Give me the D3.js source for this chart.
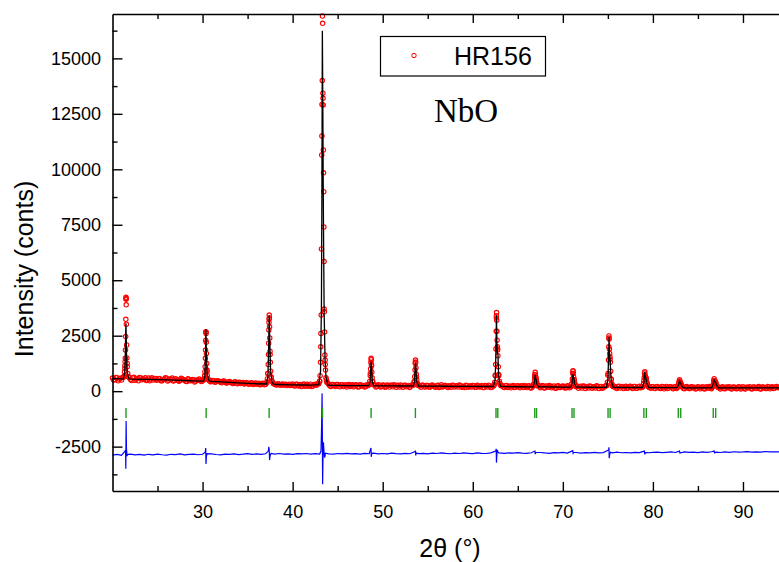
<!DOCTYPE html>
<html>
<head>
<meta charset="utf-8">
<script src="https://cdn.jsdelivr.net/npm/d3@7"></script>
<style>
  body { margin: 0; background: #fff; }
</style>
</head>
<body>
<script>
// ---- data ----

// observed counts, two interleaved 0.25 deg grids (from 20 and from 20.125 deg)
var obsStep = 0.25;
var obsStartA = 20;
var obsGridA = [
  590, 520, 610, 540, 500, 640, 4180, 650, 530, 600, 490, 570, 615, 510, 550, 480, 590, 545, 500, 575,
  510, 560, 470, 540, 585, 495, 530, 455, 560, 505, 480, 545, 500, 440, 530, 485, 510, 455, 495, 470,
  470, 700, 900, 480, 430, 470, 420, 455, 400, 445, 410, 380, 430, 375, 405, 360, 390, 345, 385, 350,
  360, 325, 370, 335, 315, 355, 300, 340, 310, 800, 1650, 420, 320, 280, 315, 295, 270, 310, 285, 260,
  320, 230, 310, 250, 215, 320, 260, 220, 315, 235, 300, 330, 450, 11500, 3700, 520, 310, 215, 300, 205,
  300, 200, 290, 230, 190, 300, 250, 195, 290, 190, 285, 225, 185, 290, 310, 1200, 290, 190, 285, 185,
  280, 180, 275, 185, 265, 290, 175, 255, 280, 180, 270, 220, 170, 275, 420, 640, 270, 175, 270, 185,
  260, 180, 275, 200, 240, 170, 285, 205, 250, 165, 230, 270, 185, 245, 280, 175, 225, 265, 180, 240,
  250, 175, 265, 190, 255, 160, 240, 270, 170, 235, 720, 1850, 360, 250, 165, 255, 195, 150, 250, 180,
  245, 150, 230, 255, 160, 240, 145, 300, 600, 230, 155, 250, 140, 225, 250, 150, 235, 135, 240, 170,
  235, 140, 240, 150, 330, 520, 200, 130, 225, 235, 125, 210, 235, 135, 200, 240, 125, 215, 150, 230,
  720, 1450, 260, 215, 120, 225, 195, 115, 220, 140, 225, 120, 210, 130, 220, 175, 470, 580, 200, 130,
  200, 115, 210, 135, 205, 105, 215, 140, 195, 110, 205, 190, 420, 200, 110, 205, 120, 200, 145, 100,
  200, 105, 195, 100, 190, 205, 110, 430, 360, 175, 100, 195, 105, 190, 200, 95, 185, 110, 200, 100,
  195, 95, 180, 200, 100, 190, 115, 205, 100, 185, 120, 210, 105, 195, 130, 205, 150
];
var obsStartB = 20.125;
var obsGridB = [
  500, 615, 470, 585, 620, 1150, 1250, 600, 480, 625, 535, 470, 600, 555, 610, 505, 465, 600, 560, 490,
  575, 470, 525, 600, 455, 545, 590, 480, 520, 450, 580, 515, 445, 560, 470, 530, 415, 505, 545, 430,
  520, 2650, 520, 420, 480, 400, 470, 430, 380, 460, 365, 425, 395, 350, 420, 335, 400, 375, 320, 395,
  310, 380, 300, 365, 345, 285, 360, 290, 380, 3100, 600, 330, 290, 335, 265, 320, 300, 250, 315, 280,
  250, 315, 230, 300, 285, 225, 310, 245, 215, 300, 270, 340, 2000, 13200, 1200, 380, 240, 305, 260, 295,
  230, 285, 210, 290, 265, 205, 285, 235, 275, 200, 270, 250, 205, 260, 800, 450, 275, 220, 270, 205,
  265, 200, 250, 270, 195, 240, 265, 190, 245, 270, 195, 255, 230, 280, 1300, 330, 230, 265, 195, 255,
  190, 255, 230, 175, 265, 215, 190, 260, 200, 240, 175, 260, 225, 185, 250, 205, 170, 245, 215, 190,
  245, 180, 230, 205, 170, 250, 190, 235, 175, 300, 3400, 750, 240, 200, 245, 165, 230, 205, 160, 235,
  200, 240, 165, 215, 235, 150, 225, 650, 330, 240, 205, 150, 235, 175, 220, 200, 145, 230, 160, 215,
  205, 150, 230, 200, 900, 300, 220, 200, 140, 220, 195, 145, 215, 190, 140, 210, 200, 135, 215, 260,
  2400, 520, 200, 150, 215, 140, 210, 185, 130, 205, 175, 215, 135, 200, 150, 200, 730, 330, 190, 200,
  135, 195, 170, 120, 195, 160, 115, 200, 150, 185, 120, 360, 320, 130, 185, 160, 115, 185, 175, 130,
  180, 150, 115, 185, 130, 175, 200, 460, 240, 150, 180, 125, 175, 150, 120, 180, 165, 115, 185, 140,
  120, 180, 150, 115, 185, 135, 175, 110, 190, 150, 125, 185, 160, 120, 190, 170
];

// extra observed points climbing each reflection
var peakObs = [
  [21.30,700],[21.34,880],[21.37,1030],[21.40,1330],[21.42,1480],[21.44,1860],[21.46,2460],[21.48,3240],
  [21.50,4230],[21.51,4140],[21.52,3890],[21.54,3020],[21.57,2080],[21.60,1500],[21.64,1100],[21.69,800],[21.76,650],
  [30.17,560],[30.22,700],[30.26,880],[30.29,1100],[30.31,1480],[30.33,1850],[30.35,2300],[30.37,2680],
  [30.39,2600],[30.41,2200],[30.43,1700],[30.46,1250],[30.49,950],[30.53,720],[30.60,560],
  [37.15,420],[37.20,560],[37.25,800],[37.29,1200],[37.32,1650],[37.34,2160],[37.36,2760],[37.38,3240],
  [37.40,3430],[37.42,3300],[37.44,2900],[37.46,2400],[37.49,1800],[37.52,1300],[37.56,900],[37.61,650],[37.70,450],
  [42.90,330],[43.00,450],[43.05,700],[43.10,1300],[43.14,2600],[43.17,3430],[43.20,6410],[43.23,10650],
  [43.26,12920],[43.29,14000],[43.31,16910],[43.33,16580],[43.36,13430],[43.39,12900],[43.41,10870],
  [43.43,9840],[43.45,8990],[43.47,7400],[43.49,5840],[43.52,3580],[43.55,2670],[43.58,1630],[43.61,1400],
  [43.65,950],[43.70,600],[43.80,400],
  [48.50,300],[48.57,450],[48.62,700],[48.66,1000],[48.69,1300],[48.71,1480],[48.73,1420],[48.76,1150],
  [48.79,850],[48.83,600],[48.88,420],[48.95,300],
  [53.42,280],[53.50,420],[53.55,650],[53.59,950],[53.62,1250],[53.64,1400],[53.66,1300],[53.69,1050],
  [53.73,760],[53.78,520],[53.85,350],[53.95,260],
  [62.35,250],[62.45,400],[62.50,700],[62.54,1200],[62.57,1900],[62.60,2700],[62.62,3300],[62.64,3540],
  [62.66,3200],[62.68,2700],[62.70,2300],[62.73,2000],[62.76,1900],[62.79,1600],[62.83,1100],[62.88,700],
  [62.95,450],[63.05,300],
  [66.70,220],[66.80,330],[66.86,520],[66.90,750],[66.93,850],[66.96,720],[67.00,600],[67.05,500],[67.10,380],[67.20,240],
  [70.90,200],[71.00,330],[71.06,550],[71.10,800],[71.13,925],[71.16,800],[71.20,640],[71.25,520],[71.30,380],[71.40,230],
  [74.85,250],[74.95,400],[75.02,800],[75.07,1400],[75.10,2000],[75.12,2490],[75.14,2350],[75.17,1900],
  [75.20,1700],[75.23,1550],[75.27,1300],[75.31,900],[75.37,550],[75.45,320],[75.55,220],
  [78.85,190],[78.97,350],[79.03,600],[79.07,820],[79.10,880],[79.14,700],[79.20,620],[79.27,560],
  [79.33,400],[79.42,250],[79.55,180],
  [82.70,170],[82.85,300],[82.92,450],[82.96,510],[83.00,420],[83.07,380],[83.15,300],[83.25,200],
  [86.55,170],[86.70,300],[86.77,480],[86.80,560],[86.85,470],[86.93,430],[87.00,360],[87.10,230],[87.25,170]
];

// calculated profile (black line)
var calcProfile = [
  [20,570],[21,558],
  [21.2,556],[21.35,820],[21.42,1600],[21.47,2700],[21.49,3060],[21.51,2800],[21.55,1750],[21.6,1050],[21.7,720],[21.85,552],
  [22,545],[23,535],[24,528],[25,518],[26,505],[27,493],[28,480],[29,468],
  [30.1,456],[30.25,640],[30.32,1500],[30.37,2790],[30.42,1850],[30.5,850],[30.65,520],[30.8,448],
  [31,440],[32,420],[33,398],[34,375],[35,352],[36,335],
  [37.1,322],[37.25,650],[37.33,1750],[37.4,3420],[37.47,2100],[37.55,950],[37.7,430],[37.9,308],
  [38.5,300],[40,284],[41,277],[42,271],
  [42.9,290],[43.1,900],[43.2,4000],[43.25,9000],[43.3,16250],[43.35,13000],[43.4,9000],[43.45,6000],
  [43.5,3500],[43.6,1400],[43.7,650],[43.9,285],
  [44.2,265],[45,258],[46,252],[47,248],
  [48.45,250],[48.6,440],[48.67,1000],[48.72,1330],[48.78,880],[48.85,430],[49.0,250],
  [50,239],[51,236],[52,233],
  [53.4,234],[53.53,440],[53.6,1000],[53.65,1280],[53.7,940],[53.8,410],[54.0,232],
  [55,227],[56,224],[57,221],[58,218],[59,216],[60,213],[61,210],
  [62.3,210],[62.48,500],[62.57,1700],[62.63,3420],[62.68,2200],[62.74,1700],[62.8,1650],[62.86,800],[62.95,420],[63.1,212],
  [64,201],[65,198],[66,196],
  [66.7,196],[66.83,370],[66.92,740],[66.98,560],[67.04,520],[67.12,320],[67.3,195],
  [68,190],[69,187],[70,184],
  [70.9,184],[71.03,370],[71.12,770],[71.18,600],[71.24,540],[71.32,320],[71.5,182],
  [72,179],[73,176],[74,173],
  [74.85,175],[75.0,550],[75.08,1500],[75.13,2450],[75.18,1700],[75.24,1450],[75.3,1000],[75.38,450],[75.6,172],
  [76,168],[77,166],[78,164],
  [78.85,164],[79.0,400],[79.09,870],[79.16,620],[79.25,560],[79.33,370],[79.55,163],
  [80,160],[81,158],[82,156],
  [82.7,156],[82.86,300],[82.95,470],[83.02,380],[83.1,360],[83.2,230],[83.4,154],
  [84,152],[85,150],[86,149],
  [86.55,150],[86.7,320],[86.8,530],[86.87,420],[86.96,400],[87.05,280],[87.3,148],
  [88,147],[89,146],[90,145],[91,145],[92,146],[93,147],[94,148]
];

// difference curve (blue), 0.5 deg grid from 20 deg plus the spikes at the reflections
var diffStart = 20, diffStep = 0.5;
var diffGrid = [
  -2880, -2850, -2890, -2860, -2840, -2875, -2850, -2885, -2845, -2870, -2835, -2865, -2880, -2845, -2860, -2830, -2870, -2850, -2840, -2865,
  -2845, -2860, -2830, -2855, -2870, -2835, -2850, -2825, -2860, -2840, -2815, -2850, -2830, -2845, -2820, -2855, -2835, -2810, -2840, -2825,
  -2845, -2815, -2830, -2810, -2840, -2820, -2835, -2805, -2825, -2840, -2810, -2830, -2800, -2825, -2815, -2835, -2805, -2820, -2795, -2830,
  -2810, -2825, -2795, -2815, -2830, -2800, -2820, -2790, -2815, -2805, -2825, -2795, -2810, -2780, -2805, -2820, -2790, -2810, -2785, -2800,
  -2815, -2785, -2800, -2810, -2780, -2795, -2770, -2805, -2785, -2795, -2770, -2790, -2805, -2775, -2790, -2765, -2785, -2800, -2770, -2780,
  -2760, -2790, -2775, -2765, -2795, -2770, -2780, -2755, -2785, -2770, -2760, -2780, -2750, -2775, -2765, -2780, -2755, -2770, -2745, -2775,
  -2760, -2745, -2770, -2755, -2740, -2765, -2750, -2735, -2760, -2745, -2770, -2740, -2755, -2730, -2750, -2765, -2740, -2755, -2730, -2745,
  -2740, -2725, -2750, -2735, -2745, -2720, -2740, -2730, -2735
];
var diffSpikes = [
  [21.38,-2700],[21.45,-2650],[21.48,-3500],[21.51,-1350],[21.55,-2600],[21.62,-2900],[21.75,-2850],
  [30.30,-2750],[30.35,-2560],[30.38,-3280],[30.42,-2950],[30.50,-2820],
  [37.30,-2700],[37.36,-2510],[37.40,-2650],[37.44,-3100],[37.50,-2900],[37.60,-2810],
  [43.15,-2700],[43.22,-1500],[43.27,-100],[43.30,-2000],[43.33,-4200],[43.37,-3000],[43.42,-2300],
  [43.48,-2700],[43.55,-3000],[43.65,-2800],
  [48.66,-2600],[48.70,-2560],[48.73,-2960],[48.78,-2800],
  [53.60,-2720],[53.64,-2680],[53.67,-2900],[53.72,-2790],
  [62.55,-2700],[62.60,-2600],[62.63,-3220],[62.67,-2900],[62.72,-2650],[62.80,-2750],[62.90,-2780],
  [66.90,-2700],[66.94,-2840],[67.00,-2760],
  [71.10,-2680],[71.14,-2800],[71.20,-2760],
  [75.08,-2650],[75.12,-2530],[75.15,-3020],[75.20,-2850],[75.30,-2750],
  [79.05,-2700],[79.10,-2850],[79.16,-2760],
  [82.95,-2700],[83.00,-2790],
  [86.80,-2700],[86.85,-2780]
];

// Bragg reflection positions (Ka1 / Ka2 split at high angle)
var braggPos = [21.5, 30.4, 37.39, 43.32, 48.71, 53.63,
  62.58, 62.78, 66.88, 67.08, 71.02, 71.24, 75.02, 75.25,
  79.0, 79.27, 82.82, 83.09, 86.7, 86.97];

var xTicks = [30, 40, 50, 60, 70, 80, 90],
    xMinor = [25, 35, 45, 55, 65, 75, 85];
var yTicks = [-2500, 0, 2500, 5000, 7500, 10000, 12500, 15000],
    yMinor = [-3750, -1250, 1250, 3750, 6250, 8750, 11250, 13750, 16250];

var legendLabel = "HR156",
    phaseLabel = "NbO",
    xTitle = "2\u03B8 (\u00B0)",
    yTitle = "Intensity (conts)";

// ---- drawing ----

var width = 779, height = 562;
var plotLeft = 112.5, plotRight = 779, plotTop = 14, plotBottom = 491;

var x = d3.scaleLinear().domain([20, 94]).range([plotLeft, plotRight]);
var y = d3.scaleLinear().domain([-4500, 17000]).range([plotBottom, plotTop]);

var sans = "'Liberation Sans', Arial, Helvetica, sans-serif";

var svg = d3.select("body").append("svg")
    .attr("width", width)
    .attr("height", height);

// observed points
var obsPoints = obsGridA.map(function(v, i) { return [obsStartA + i * obsStep, v]; })
    .concat(obsGridB.map(function(v, i) { return [obsStartB + i * obsStep, v]; }))
    .concat(peakObs);

svg.append("g").selectAll("circle")
    .data(obsPoints)
    .enter().append("circle")
    .attr("cx", function(d) { return x(d[0]); })
    .attr("cy", function(d) { return y(d[1]); })
    .attr("r", 2.2)
    .style("fill", "none")
    .style("stroke", "#ff0000")
    .style("stroke-width", 1.1);

var line = d3.line()
    .x(function(d) { return x(d[0]); })
    .y(function(d) { return y(d[1]); });

// calculated line
svg.append("path")
    .datum(calcProfile)
    .attr("d", line)
    .style("fill", "none")
    .style("stroke", "#000")
    .style("stroke-width", 1.3);

// difference line: drop grid points sitting on a spike
var diffPoints = diffGrid.map(function(v, i) { return [diffStart + i * diffStep, v]; })
    .filter(function(p) {
        return !diffSpikes.some(function(s) { return Math.abs(s[0] - p[0]) < 0.12; });
    })
    .concat(diffSpikes)
    .sort(function(a, b) { return a[0] - b[0]; });

svg.append("path")
    .datum(diffPoints)
    .attr("d", line)
    .style("fill", "none")
    .style("stroke", "#0000ff")
    .style("stroke-width", 1.2);

// Bragg ticks
svg.append("g").selectAll("line")
    .data(braggPos)
    .enter().append("line")
    .attr("x1", function(d) { return x(d); })
    .attr("x2", function(d) { return x(d); })
    .attr("y1", y(-760))
    .attr("y2", y(-1210))
    .style("stroke", "#1f9a1f")
    .style("stroke-width", 1.4);

// axes
function styleAxis(g) {
    g.select(".domain").attr("stroke", "#000").attr("stroke-width", 1.6);
    g.selectAll(".tick line").attr("stroke", "#000").attr("stroke-width", 1.4);
    g.selectAll("text")
        .attr("font-family", sans)
        .attr("font-size", "18px")
        .attr("fill", "#000");
}

svg.append("g")
    .attr("transform", "translate(0," + plotBottom + ")")
    .call(d3.axisBottom(x).tickValues(xTicks).tickSizeInner(-9).tickSizeOuter(0)
        .tickPadding(14).tickFormat(function(d) { return String(d); }))
    .call(styleAxis);

svg.append("g")
    .attr("transform", "translate(0," + plotBottom + ")")
    .call(d3.axisBottom(x).tickValues(xMinor).tickSizeInner(-5).tickSizeOuter(0).tickFormat(""))
    .call(styleAxis)
    .select(".domain").remove();

svg.append("g")
    .attr("transform", "translate(0," + plotTop + ")")
    .call(d3.axisTop(x).tickValues(xTicks).tickSizeInner(-9).tickSizeOuter(0).tickFormat(""))
    .call(styleAxis);

svg.append("g")
    .attr("transform", "translate(0," + plotTop + ")")
    .call(d3.axisTop(x).tickValues(xMinor).tickSizeInner(-5).tickSizeOuter(0).tickFormat(""))
    .call(styleAxis)
    .select(".domain").remove();

svg.append("g")
    .attr("transform", "translate(" + plotLeft + ",0)")
    .call(d3.axisLeft(y).tickValues(yTicks).tickSizeInner(-10).tickSizeOuter(0)
        .tickPadding(11.5).tickFormat(function(d) { return String(d); }))
    .call(styleAxis);

svg.append("g")
    .attr("transform", "translate(" + plotLeft + ",0)")
    .call(d3.axisLeft(y).tickValues(yMinor).tickSizeInner(-5).tickSizeOuter(0).tickFormat(""))
    .call(styleAxis)
    .select(".domain").remove();

// axis titles
svg.append("text")
    .attr("x", 450)
    .attr("y", 557)
    .attr("text-anchor", "middle")
    .attr("font-family", sans)
    .attr("font-size", "25px")
    .text(xTitle);

svg.append("text")
    .attr("transform", "translate(33,269) rotate(-90)")
    .attr("text-anchor", "middle")
    .attr("font-family", sans)
    .attr("font-size", "25px")
    .text(yTitle);

// legend
var legend = svg.append("g");
legend.append("rect")
    .attr("x", 380.5).attr("y", 36.5)
    .attr("width", 165).attr("height", 39.5)
    .style("fill", "#fff")
    .style("stroke", "#000")
    .style("stroke-width", 1.2);
legend.append("circle")
    .attr("cx", 414).attr("cy", 55.5).attr("r", 2.2)
    .style("fill", "none").style("stroke", "#ff0000").style("stroke-width", 1);
legend.append("text")
    .attr("x", 454).attr("y", 65)
    .attr("font-family", sans)
    .attr("font-size", "25px")
    .text(legendLabel);

svg.append("text")
    .attr("x", 434).attr("y", 122)
    .attr("font-family", "'Liberation Serif', 'Times New Roman', serif")
    .attr("font-size", "33px")
    .text(phaseLabel);
</script>
</body>
</html>
